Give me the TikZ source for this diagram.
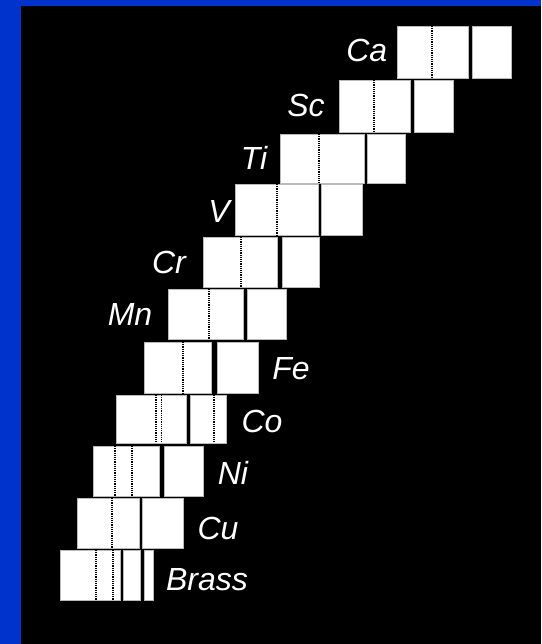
\documentclass[tikz,border=0pt]{standalone}
\usepackage{fontspec}
\setmainfont{Liberation Sans}
\definecolor{slideblue}{RGB}{0,51,204}
\tikzset{
  specbox/.style={fill=white, draw=gray!55, line width=0.4pt},
  kline/.style={black, dash pattern=on 1.2pt off 1pt, line width=1.5pt},
  elem/.style={text=white, font=\fontsize{32}{32}\selectfont\itshape, inner sep=0pt},
}
\begin{document}
\begin{tikzpicture}[x=1pt,y=-1pt]
% slide frame
\fill[slideblue] (0,0) rectangle (541,644);
\fill[black] (20.5,6) rectangle (541,644);
\useasboundingbox (0,0) rectangle (541,644);
% spectra: top/bottom/left box/right box/line
\foreach \t/\b/\la/\ra/\lb/\rb/\k in {
    26/78/397/468/472/511/432,
    80/132/339/410/414/453/374,
    134/183/280/364/367/405/319,
    184/235/235/318/321/362/277,
    237/287/203/277/282/319/241,
    289/339/168/243/247/286/209,
    342/393/144/211/217/258/183,
    395/443/116/186/190/226/161.7,
    446/496/93/159/164/203/132,
    498/548/77/139/142/183/112,
    550/600/60/120/123/140/113}{
  \path[specbox] (\la,\t) rectangle (\ra,\b);
  \path[specbox] (\lb,\t) rectangle (\rb,\b);
  \draw[kline] (\k,\t) -- (\k,\b);
}
% extra lines
\draw[kline] (156,395) -- (156,443);
\draw[kline] (214,395) -- (214,443);
\draw[kline] (115,446) -- (115,496);
\path[specbox] (144,550) rectangle (153,600);
\draw[kline] (96,550) -- (96,600);
% labels
\node[elem] (ca) at (366.7,50) {Ca};
\node[elem] (sc) at (306,105) {Sc};
\node[elem] (ti) at (254,158) {Ti};
\node[elem] (v) at (219,211) {V};
\node[elem] (cr) at (169,262) {Cr};
\node[elem] (mn) at (130,314) {Mn};
\node[elem] (fe) at (291,369) {Fe};
\node[elem] (co) at (262,421) {Co};
\node[elem] (ni) at (233,473) {Ni};
\node[elem] (cu) at (218,528) {Cu};
\node[elem] (brass) at (207,580) {Brass};
\end{tikzpicture}
\end{document}
